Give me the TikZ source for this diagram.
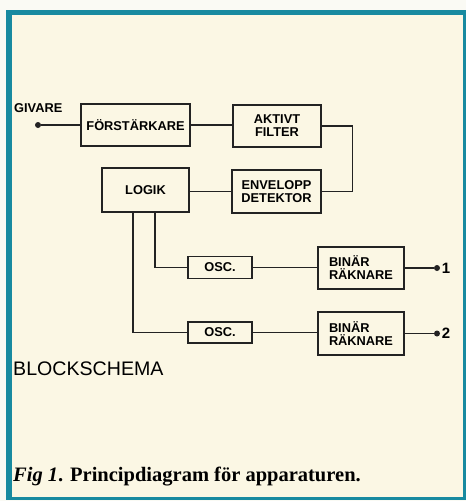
\documentclass[tikz,border=0pt]{standalone}
\usepackage{fontspec}
\setmainfont{Liberation Serif}
\setsansfont{Liberation Sans}
\usetikzlibrary{positioning}
\definecolor{frameteal}{RGB}{24,138,160}
\definecolor{papercream}{RGB}{251,247,228}
\definecolor{paperwhite}{RGB}{250,250,244}
\definecolor{inkgray}{RGB}{35,35,35}

\begin{document}
\begin{tikzpicture}[x=1pt, y=-1pt,
    blk/.style={draw=inkgray, line width=1.2pt, rectangle, inner sep=0pt, align=center,
        font=\sffamily\bfseries\fontsize{12.8}{13}\selectfont},
    pin/.style={circle, fill=inkgray, inner sep=0pt, minimum size=6pt},
    wire/.style={draw=inkgray, line width=1.2pt}]
    % page and frame
    \useasboundingbox (0,0) rectangle (466,501);
    \fill[paperwhite] (0,0) rectangle (466,501);
    \fill[frameteal] (6,10) rectangle (466,500);
    \fill[papercream] (12,15) rectangle (463,497);

    % blocks
    \node[blk, minimum width=109pt, minimum height=42pt] (amp) at (135.5,125) {FÖRSTÄRKARE};
    \node[blk, minimum width=88pt, minimum height=42pt] (filt) at (277,126) {AKTIVT\\FILTER};
    \node[blk, minimum width=87pt, minimum height=44pt] (logik) at (145.5,190) {LOGIK};
    \node[blk, minimum width=89pt, minimum height=43pt] (env) at (276.5,191.5) {ENVELOPP\\DETEKTOR};
    \node[blk, minimum width=64pt, minimum height=22pt] (osc1) at (220,267.5) {OSC.};
    \node[blk, minimum width=86pt, minimum height=42pt, align=left] (bin1) at (361,268) {BINÄR\\RÄKNARE};
    \node[blk, minimum width=64pt, minimum height=21pt] (osc2) at (220,332.5) {OSC.};
    \node[blk, minimum width=86pt, minimum height=43pt, align=left] (bin2) at (361,333.5) {BINÄR\\RÄKNARE};

    % input and outputs
    \node[pin] (in) at (38,125) {};
    \node[anchor=base west, inner sep=0pt, font=\sffamily\bfseries\fontsize{12.8}{12.8}\selectfont] (givare) at (14,112) {GIVARE};
    \node[pin, label={[inner sep=1.5pt, font=\sffamily\bfseries\fontsize{15}{15}\selectfont]right:1}] (out1) at (437,268) {};
    \node[pin, label={[inner sep=1.5pt, font=\sffamily\bfseries\fontsize{15}{15}\selectfont]right:2}] (out2) at (437,333.5) {};

    % wiring
    \draw[wire] (in) -- (in -| amp.west);
    \draw[wire] (amp.east) -- (amp.east -| filt.west);
    \draw[wire] (filt.east) -- ++(31,0) |- (env.east);
    \draw[wire] (env.west) -- (env.west -| logik.east);
    \draw[wire] ([xshift=9.5pt]logik.south) |- (osc1.west);
    \draw[wire] ([xshift=-12.5pt]logik.south) |- (osc2.west);
    \draw[wire] (osc1.east) -- (osc1.east -| bin1.west);
    \draw[wire] (osc2.east) -- (osc2.east -| bin2.west);
    \draw[wire] (bin1.east) -- (out1);
    \draw[wire] (bin2.east) -- (out2);

    % titles
    \node[anchor=base west, inner sep=0pt, font=\sffamily\fontsize{19.6}{19.6}\selectfont] (title) at (13,375) {BLOCKSCHEMA};
    \node[anchor=base west, inner sep=0pt, font=\rmfamily\bfseries\fontsize{20.5}{20.5}\selectfont] (caption) at (13,481) {\textit{Fig 1}. Principdiagram för apparaturen.};
\end{tikzpicture}
\end{document}
